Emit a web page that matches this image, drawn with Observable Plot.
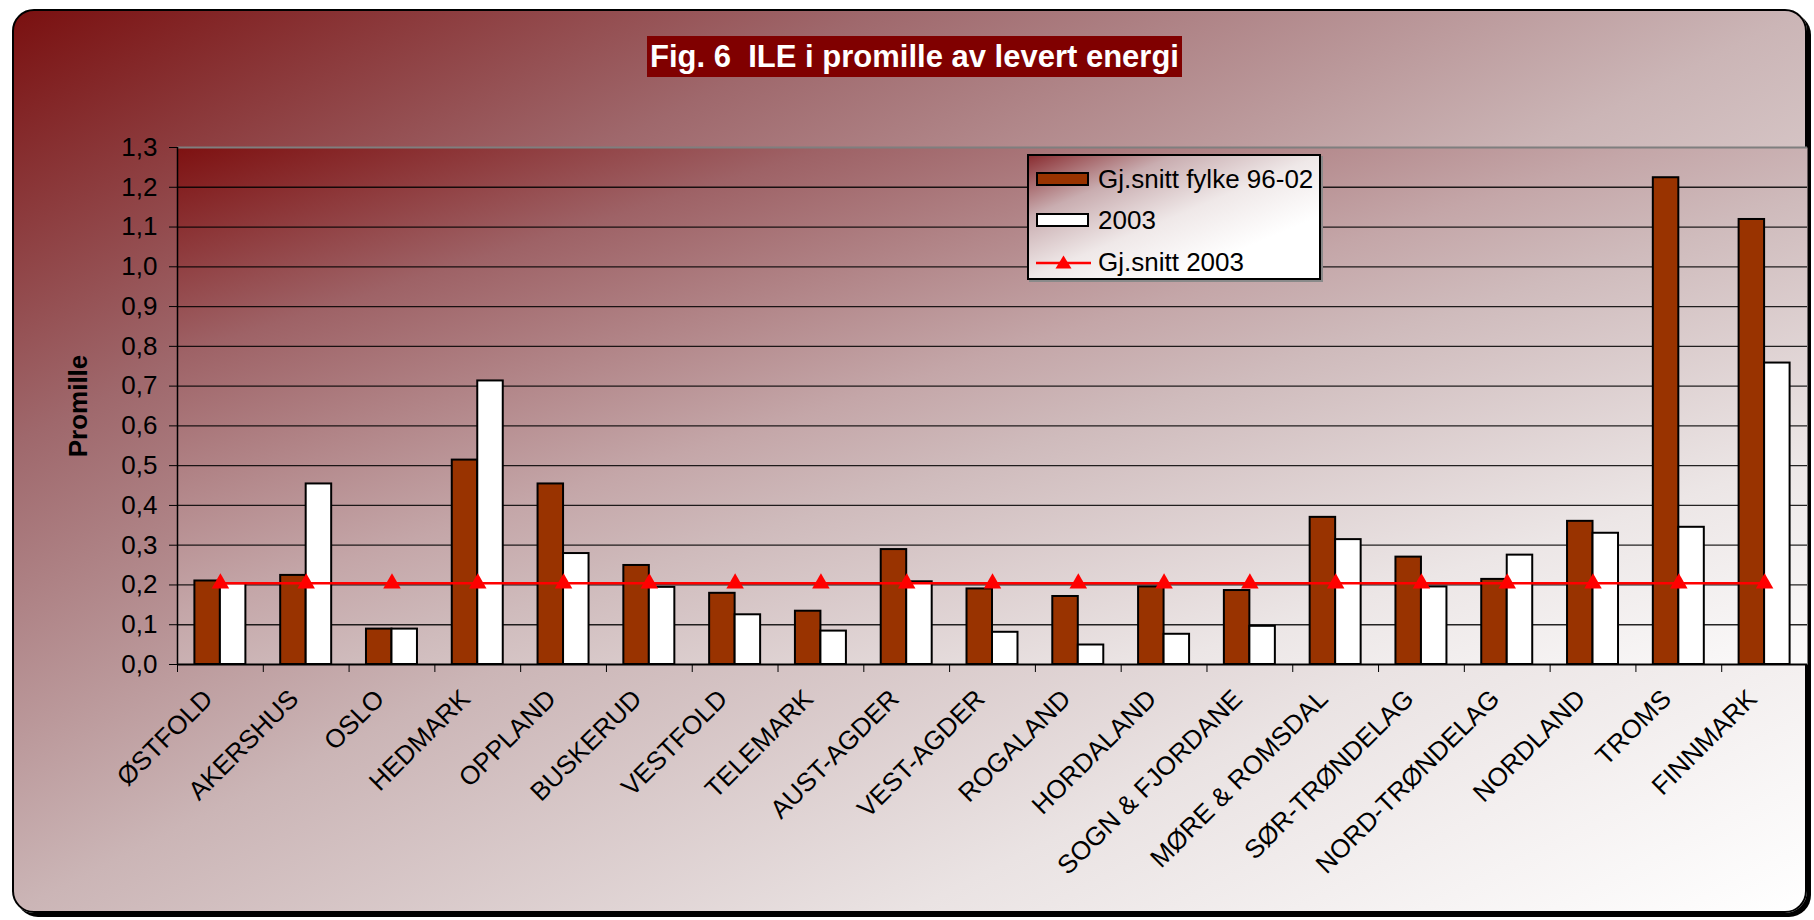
<!DOCTYPE html>
<html>
<head>
<meta charset="utf-8">
<script src="https://cdn.jsdelivr.net/npm/d3@7"></script>
<script src="https://cdn.jsdelivr.net/npm/@observablehq/plot@0.6"></script>
<style>
html, body { margin: 0; padding: 0; background: #ffffff; width: 1814px; height: 920px; overflow: hidden; font-family: "Liberation Sans", Arial, sans-serif; }
#frame { position: absolute; left: 12px; top: 9px; width: 1791px; height: 900px; border: 2px solid #000; border-radius: 22px; box-shadow: 4px 4px 0 #000;
  background: linear-gradient(to bottom right, #7a1010 0%, #9f686c 24%, #cbb5b6 50%, #eae3e3 75%, #ffffff 100%); }
#chart { position: absolute; left: 0; top: 0; }
#title { position: absolute; left: 647px; top: 36px; width: 535px; height: 41px; background: #800000; color: #fff; font-weight: bold; font-size: 31px; line-height: 42px; text-align: center; white-space: pre; }
#legend { position: absolute; left: 1027px; top: 154px; width: 294px; height: 126px; box-sizing: border-box; border: 2px solid #000; box-shadow: 2px 2px 0 #8a8a8a;
  background: linear-gradient(to bottom right, #8a2e32 0%, #c9adb0 25%, #efe8e8 50%, #ffffff 75%, #ffffff 100%); }
.item { position: absolute; left: 7px; height: 30px; }
.sw { position: absolute; left: 0; width: 49px; height: 10px; border: 2px solid #000; }
.lab { position: absolute; left: 62px; top: 0; font-size: 26px; line-height: 30px; color: #000; white-space: nowrap; }
</style>
</head>
<body>
<div id="frame"></div>
<div id="chart"></div>
<div id="title"></div>
<div id="legend"></div>
<script>
// ---- data ----
const counties = ["ØSTFOLD", "AKERSHUS", "OSLO", "HEDMARK", "OPPLAND", "BUSKERUD", "VESTFOLD", "TELEMARK", "AUST-AGDER", "VEST-AGDER", "ROGALAND", "HORDALAND", "SOGN & FJORDANE", "MØRE & ROMSDAL", "SØR-TRØNDELAG", "NORD-TRØNDELAG", "NORDLAND", "TROMS", "FINNMARK"];
const avgCounty9602 = [0.21, 0.224, 0.089, 0.514, 0.454, 0.249, 0.179, 0.134, 0.289, 0.19, 0.171, 0.195, 0.186, 0.37, 0.27, 0.214, 0.36, 1.224, 1.119];
const value2003 = [0.203, 0.454, 0.089, 0.713, 0.279, 0.194, 0.125, 0.084, 0.208, 0.081, 0.049, 0.076, 0.096, 0.314, 0.195, 0.275, 0.33, 0.345, 0.758];
const avg2003 = [0.204, 0.204, 0.204, 0.204, 0.204, 0.204, 0.204, 0.204, 0.204, 0.204, 0.204, 0.204, 0.204, 0.204, 0.204, 0.204, 0.204, 0.204, 0.204];
const yTicks = [0, 0.1, 0.2, 0.3, 0.4, 0.5, 0.6, 0.7, 0.8, 0.9, 1.0, 1.1, 1.2, 1.3];
const seriesNames = ["Gj.snitt fylke 96-02", "2003", "Gj.snitt 2003"];
const titleText = "Fig. 6  ILE i promille av levert energi";
const yLabel = "Promille";

// ---- layout ----
const W = 1814, H = 920, mL = 177, mR = 7, mT = 147, mB = 256;
const bw = (W - mL - mR) / counties.length;
const outerInset = 17.4;

const rows = counties.map((c, i) => ({county: c, a: avgCounty9602[i], b: value2003[i], m: avg2003[i]}));

const defs = () => {
  const g = d3.create("svg:defs");
  const lg = g.append("linearGradient").attr("id", "plotBg").attr("x1", 0).attr("y1", 0).attr("x2", 1).attr("y2", 1);
  [[0, "#7e1111"], [0.2, "#9e6266"], [0.45, "#c4a6a8"], [0.55, "#cfbbbc"], [0.8, "#ece6e6"], [1, "#fbfafa"]]
    .forEach(([o, c]) => lg.append("stop").attr("offset", o).attr("stop-color", c));
  return g.node();
};

const fmt = d => d.toFixed(1).replace(".", ",");

const chart = Plot.plot({
  width: W, height: H,
  marginLeft: mL, marginRight: mR, marginTop: mT, marginBottom: mB,
  style: {background: "transparent", fontFamily: "'Liberation Sans', Arial, sans-serif", fontSize: "26px", color: "#000", overflow: "visible"},
  x: {type: "band", domain: counties, padding: 0, round: false, axis: null},
  y: {domain: [0, 1.3], axis: null},
  marks: [
    defs,
    Plot.frame({fill: "url(#plotBg)", stroke: null}),
    Plot.ruleY(yTicks.slice(1, -1), {stroke: "#000", strokeWidth: 1.3, strokeOpacity: 0.85}),
    Plot.ruleY([1.3], {stroke: "#7f7f7f", strokeWidth: 2}),
    Plot.barY(rows, {x: "county", y: "a", fill: "#993300", stroke: "#000", strokeWidth: 2, insetLeft: outerInset, insetRight: bw / 2}),
    Plot.barY(rows, {x: "county", y: "b", fill: "#ffffff", stroke: "#000", strokeWidth: 2, insetLeft: bw / 2, insetRight: outerInset}),
    Plot.lineY(rows, {x: "county", y: "m", stroke: "#ff0000", strokeWidth: 2.5}),
    Plot.dot(rows, {x: "county", y: "m", symbol: "triangle", fill: "#ff0000", stroke: null, r: 6.5}),
    Plot.ruleY([0], {stroke: "#000", strokeWidth: 2}),
    Plot.ruleX([counties[0]], {y1: 0, y2: 1.3, dx: -bw / 2, stroke: "#000", strokeWidth: 1.5}),
    Plot.axisY({ticks: yTicks, tickSize: 8, tickPadding: 12, tickFormat: fmt, label: null, anchor: "left", fontSize: 26, fill: "#000", stroke: "#000"}),
    Plot.axisX({tickSize: 8, dx: -bw / 2, tickFormat: () => "", label: null, anchor: "bottom", stroke: "#000"}),
    Plot.text(counties, {x: d => d, frameAnchor: "bottom", rotate: -45, textAnchor: "end", lineAnchor: "middle", dx: -12, dy: 30, fontSize: 26, fill: "#000"}),
    Plot.text([yLabel], {frameAnchor: "left", rotate: -90, dx: -99, textAnchor: "middle", lineAnchor: "middle", fontWeight: "bold", fontSize: 26, fill: "#000"})
  ]
});
document.getElementById("chart").appendChild(chart);

// ---- title ----
document.getElementById("title").textContent = titleText;

// ---- legend ----
const legend = document.getElementById("legend");
const tops = [8, 49, 91];
seriesNames.forEach((name, i) => {
  const it = document.createElement("div");
  it.className = "item";
  it.style.top = tops[i] + "px";
  if (i < 2) {
    const sw = document.createElement("div");
    sw.className = "sw";
    sw.style.top = "8px";
    sw.style.background = i === 0 ? "#993300" : "#ffffff";
    it.appendChild(sw);
  } else {
    const s = document.createElementNS("http://www.w3.org/2000/svg", "svg");
    s.setAttribute("width", 56); s.setAttribute("height", 30);
    s.style.position = "absolute"; s.style.left = "0px"; s.style.top = "0px";
    s.innerHTML = '<line x1="0" y1="16" x2="55" y2="16" stroke="#ff0000" stroke-width="2.5"/><path d="M27.5,8.5 L35.5,21.5 L19.5,21.5 Z" fill="#ff0000"/>';
    it.appendChild(s);
  }
  const lab = document.createElement("div");
  lab.className = "lab";
  lab.textContent = name;
  it.appendChild(lab);
  legend.appendChild(it);
});
</script>
</body>
</html>
